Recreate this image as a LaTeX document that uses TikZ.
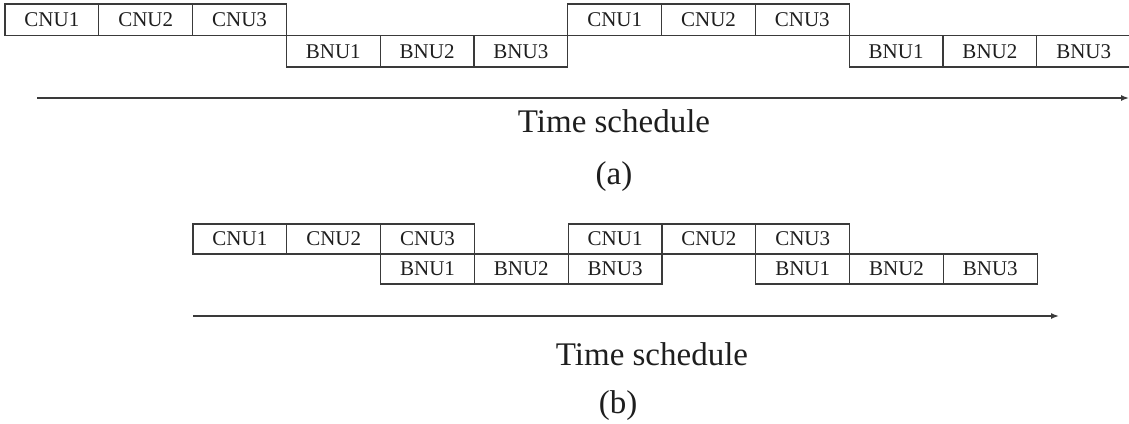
\documentclass[tikz,border=0pt]{standalone}
\usepackage{fontspec}
\setmainfont{Liberation Serif}
\usetikzlibrary{arrows.meta}
\definecolor{ln}{HTML}{3A3A3A}
\definecolor{tx}{HTML}{1E1E1E}
\tikzset{
  unit/.style={draw=ln, line width=1.1pt, minimum width=93.8pt, inner sep=0pt,
    text=tx, font=\fontsize{21}{21}\selectfont},
  rowa/.style={unit, minimum height=31.5pt},
  rowb/.style={unit, minimum height=30pt},
  timeline/.style={draw=ln, line width=1.5pt, -{Latex[length=8pt,width=6pt]}},
  caption/.style={anchor=base, inner sep=0pt, text=tx, font=\fontsize{33}{33}\selectfont}
}
\begin{document}
\begin{tikzpicture}[x=1pt, y=-1pt]
\useasboundingbox (0,0) rectangle (1129,423);

% (a) sequential schedule: check-node units, then bit-node units
\node[rowa] (a-c1) at (51.9,19.75) {CNU1};
\node[rowa] (a-c2) at (145.7,19.75) {CNU2};
\node[rowa] (a-c3) at (239.5,19.75) {CNU3};
\node[rowa] (a-b1) at (333.3,51.25) {BNU1};
\node[rowa] (a-b2) at (427.1,51.25) {BNU2};
\node[rowa] (a-b3) at (520.9,51.25) {BNU3};
\node[rowa] (a-c4) at (614.7,19.75) {CNU1};
\node[rowa] (a-c5) at (708.5,19.75) {CNU2};
\node[rowa] (a-c6) at (802.3,19.75) {CNU3};
\node[rowa] (a-b4) at (896.1,51.25) {BNU1};
\node[rowa] (a-b5) at (989.9,51.25) {BNU2};
\node[rowa] (a-b6) at (1083.7,51.25) {BNU3};

\coordinate (a-t0) at (37,98);
\coordinate (a-t1) at (1129,98);
\draw[timeline] (a-t0) -- (a-t1);
\node[caption] (a-lbl) at (614,132) {Time schedule};
\node[caption] (a-cap) at (614,184) {(a)};

% (b) overlapped schedule
\node[rowb] (b-c1) at (239.9,239) {CNU1};
\node[rowb] (b-c2) at (333.7,239) {CNU2};
\node[rowb] (b-c3) at (427.5,239) {CNU3};
\node[rowb] (b-c4) at (615.1,239) {CNU1};
\node[rowb] (b-c5) at (708.9,239) {CNU2};
\node[rowb] (b-c6) at (802.7,239) {CNU3};
\node[rowb] (b-b1) at (427.5,269) {BNU1};
\node[rowb] (b-b2) at (521.3,269) {BNU2};
\node[rowb] (b-b3) at (615.1,269) {BNU3};
\node[rowb] (b-b4) at (802.7,269) {BNU1};
\node[rowb] (b-b5) at (896.5,269) {BNU2};
\node[rowb] (b-b6) at (990.3,269) {BNU3};

\coordinate (b-t0) at (193,316);
\coordinate (b-t1) at (1059,316);
\draw[timeline] (b-t0) -- (b-t1);
\node[caption] (b-lbl) at (652,365) {Time schedule};
\node[caption] (b-cap) at (618,413) {(b)};
\end{tikzpicture}
\end{document}
